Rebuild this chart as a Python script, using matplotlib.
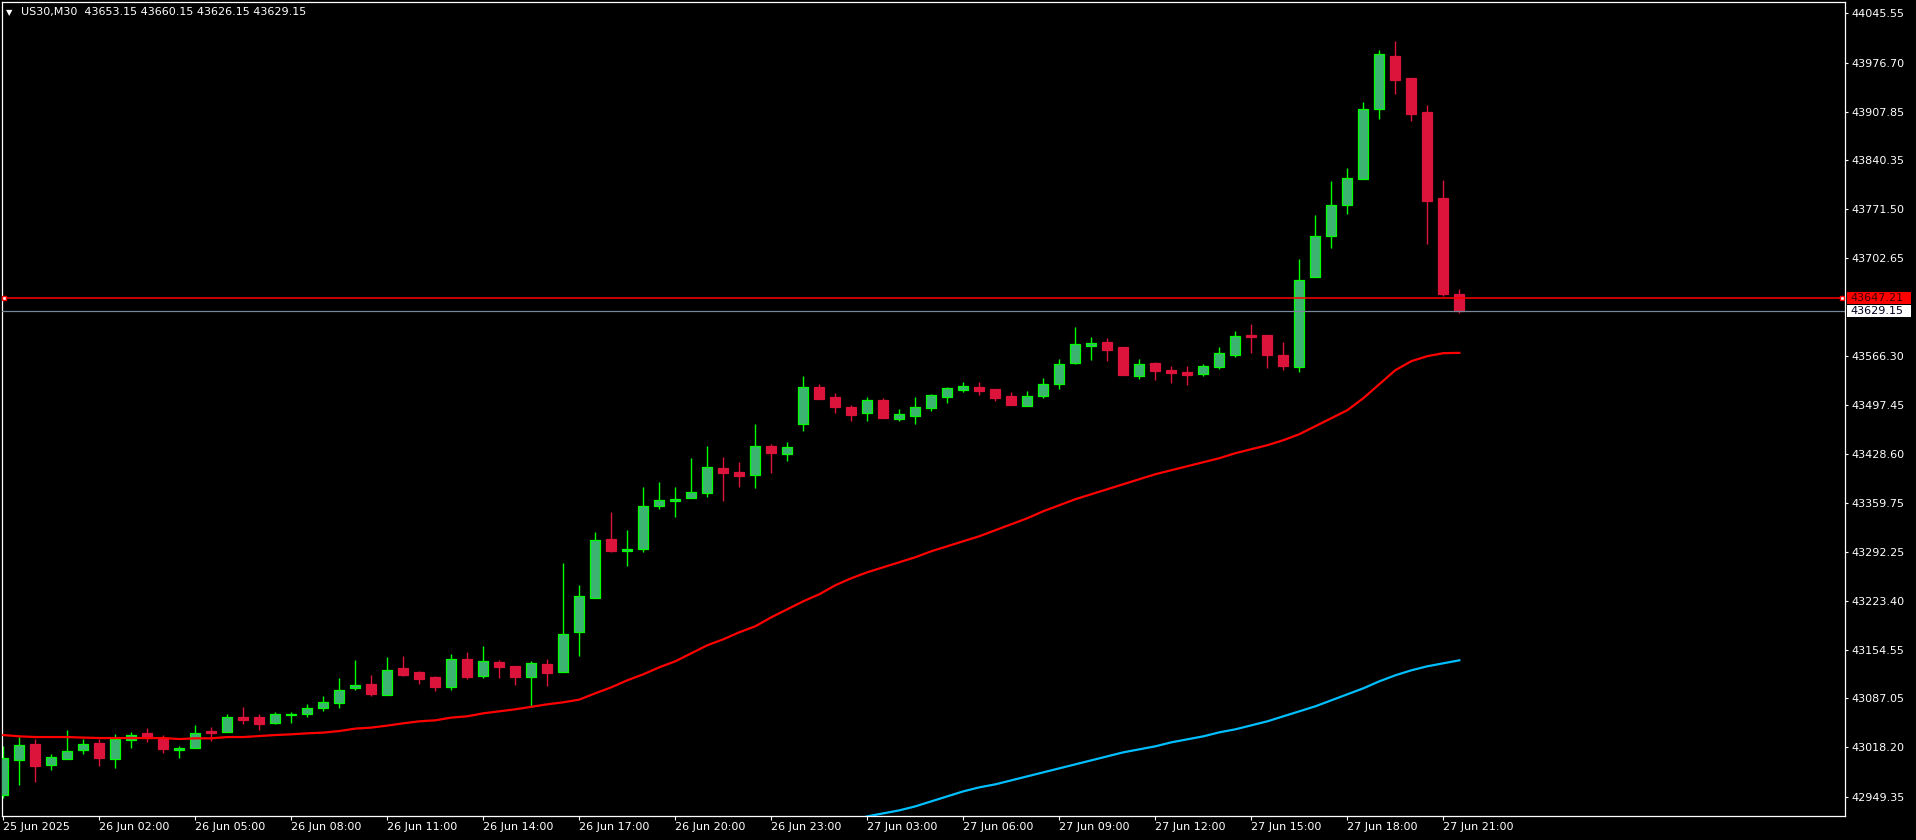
import numpy as np
import matplotlib
matplotlib.use("Agg")
import matplotlib.pyplot as plt
from matplotlib.patches import Rectangle
from matplotlib.transforms import blended_transform_factory

# US30 M30 candles (open, high, low, close)
opens = [42951.6, 43000.6, 43022.6, 42993.6, 43002.0, 43014.6, 43024.0, 43002.0, 43028.6, 43038.0,
         43032.0, 43014.6, 43018.0, 43040.8, 43039.8, 43060.4, 43060.4, 43052.4, 43063.2, 43065.6,
         43073.4, 43080.4, 43102.0, 43106.6, 43092.2, 43129.0, 43123.4, 43116.4, 43102.8, 43141.6,
         43118.2, 43137.4, 43131.8, 43116.8, 43134.6, 43124.4, 43180.4, 43228.0, 43309.6, 43293.2,
         43296.0, 43356.8, 43363.2, 43368.0, 43375.0, 43409.0, 43403.4, 43400.0, 43439.8, 43429.0,
         43471.0, 43522.4, 43508.4, 43494.4, 43486.4, 43504.2, 43478.0, 43482.2, 43493.4, 43508.8,
         43518.6, 43522.4, 43519.6, 43509.8, 43496.2, 43510.2, 43527.0, 43556.4, 43580.2, 43585.4,
         43578.4, 43538.2, 43556.0, 43546.2, 43543.4, 43540.6, 43550.8, 43567.6, 43595.2, 43595.2,
         43567.2, 43550.8, 43676.8, 43734.2, 43777.6, 43814.0, 43912.0, 43985.8, 43955.0, 43907.4,
         43787.0, 43653.15]
highs = [43019.6, 43032.8, 43030.0, 43008.6, 43042.2, 43029.6, 43029.6, 43036.6, 43039.4, 43045.0,
         43035.2, 43020.8, 43049.0, 43046.4, 43064.6, 43074.4, 43064.6, 43067.4, 43067.4, 43078.6,
         43090.2, 43115.0, 43140.2, 43119.2, 43144.4, 43145.8, 43124.8, 43117.8, 43148.6, 43151.4,
         43159.8, 43140.2, 43131.8, 43138.8, 43141.6, 43276.0, 43245.2, 43319.4, 43347.4, 43322.2,
         43382.4, 43389.4, 43382.4, 43423.0, 43439.8, 43424.4, 43417.4, 43470.6, 43442.6, 43445.4,
         43537.8, 43526.6, 43514.0, 43497.0, 43508.4, 43507.0, 43491.6, 43508.4, 43512.6, 43522.4,
         43529.4, 43529.4, 43519.6, 43515.4, 43516.8, 43535.0, 43561.6, 43606.4, 43592.4, 43591.0,
         43578.4, 43561.6, 43557.4, 43551.8, 43551.8, 43554.6, 43578.4, 43600.8, 43610.6, 43595.2,
         43585.4, 43701.6, 43763.2, 43810.8, 43829.0, 43921.4, 43994.2, 44006.8, 43955.0, 43917.2,
         43812.2, 43660.15]
lows = [42948.0, 42965.0, 42969.4, 42986.2, 43002.0, 43009.0, 42992.2, 42989.4, 43017.4, 43026.0,
        43010.4, 43003.4, 43018.0, 43027.0, 43039.8, 43051.0, 43042.6, 43051.0, 43052.4, 43060.8,
        43069.2, 43073.4, 43098.6, 43090.2, 43092.2, 43118.0, 43107.0, 43097.0, 43098.6, 43114.0,
        43115.4, 43115.4, 43105.6, 43075.8, 43104.2, 43124.4, 43146.2, 43228.0, 43291.8, 43272.0,
        43291.8, 43352.0, 43341.0, 43368.0, 43368.8, 43363.2, 43382.8, 43381.4, 43402.4, 43419.2,
        43461.0, 43506.0, 43486.4, 43475.2, 43475.2, 43479.4, 43475.2, 43471.0, 43489.2, 43500.4,
        43515.8, 43511.6, 43503.0, 43497.6, 43496.2, 43507.4, 43520.0, 43555.0, 43560.6, 43559.2,
        43539.6, 43534.0, 43532.6, 43528.4, 43525.6, 43538.2, 43548.0, 43564.8, 43570.0, 43549.4,
        43546.6, 43543.8, 43676.8, 43717.4, 43765.0, 43814.0, 43898.0, 43933.0, 43895.2, 43723.0,
        43650.2, 43626.15]
closes = [43002.9, 43021.0, 42991.8, 43004.4, 43012.8, 43022.6, 43003.4, 43029.6, 43036.2, 43032.0,
          43015.6, 43017.4, 43039.0, 43038.4, 43061.4, 43056.6, 43051.0, 43064.6, 43065.0, 43074.0,
          43082.4, 43099.2, 43106.2, 43093.0, 43127.2, 43119.6, 43114.0, 43102.8, 43141.6, 43116.8,
          43138.8, 43130.8, 43116.8, 43136.0, 43122.4, 43177.6, 43229.8, 43308.0, 43293.2, 43295.6,
          43356.8, 43365.2, 43366.6, 43376.4, 43410.0, 43402.4, 43398.2, 43439.8, 43430.4, 43438.0,
          43522.4, 43506.0, 43494.8, 43483.6, 43504.2, 43479.4, 43484.6, 43494.4, 43511.2, 43521.0,
          43523.8, 43517.2, 43507.4, 43497.6, 43509.8, 43526.6, 43554.6, 43582.6, 43584.0, 43574.6,
          43539.6, 43554.6, 43545.2, 43542.4, 43539.6, 43551.8, 43570.0, 43593.8, 43592.4, 43567.6,
          43552.2, 43672.0, 43733.8, 43777.2, 43815.0, 43911.6, 43988.6, 43952.6, 43905.0, 43783.2,
          43653.0, 43629.15]

# moving averages (red: all bars, blue: from bar 53 on, lower part is off-chart)
ma_red = [43035.6, 43033.8, 43032.8, 43032.8, 43032.8, 43032.0, 43031.4, 43031.4, 43031.4, 43031.4,
          43031.4, 43030.0, 43031.0, 43031.0, 43032.8, 43032.8, 43034.2, 43035.6, 43036.6, 43038.0,
          43039.0, 43041.2, 43044.6, 43046.0, 43048.8, 43052.0, 43054.8, 43056.2, 43060.0, 43061.8,
          43066.0, 43068.8, 43071.6, 43075.1, 43078.6, 43081.4, 43085.2, 43094.0, 43102.4, 43112.2,
          43120.6, 43130.4, 43138.8, 43150.0, 43161.2, 43169.6, 43179.4, 43187.8, 43200.4, 43211.6,
          43222.8, 43232.6, 43245.2, 43255.0, 43263.4, 43270.4, 43277.4, 43284.4, 43292.8, 43299.8,
          43306.8, 43313.8, 43322.2, 43330.6, 43339.0, 43348.8, 43357.2, 43365.6, 43372.6, 43379.6,
          43386.6, 43393.6, 43400.6, 43406.2, 43411.8, 43417.4, 43423.0, 43430.0, 43435.6, 43441.2,
          43448.2, 43456.6, 43467.8, 43479.0, 43490.2, 43507.0, 43526.6, 43546.2, 43558.8, 43565.8,
          43570.0, 43570.4]
blue_start = 53
ma_blue = [42914.8, 42921.8, 42926.0, 42930.2, 42935.8, 42942.8, 42949.8, 42956.8, 42962.4, 42966.6,
           42972.2, 42977.8, 42983.4, 42989.0, 42994.6, 43000.2, 43005.8, 43011.4, 43015.6, 43019.8,
           43025.4, 43029.6, 43033.8, 43039.4, 43043.6, 43049.2, 43054.8, 43061.8, 43068.8, 43075.8,
           43084.2, 43092.6, 43101.0, 43110.8, 43119.2, 43126.2, 43131.8, 43136.0, 43140.2]

hline_price = 43647.21
bid_price = 43629.15

ytick_vals = [44045.55, 43976.70, 43907.85, 43840.35, 43771.50, 43702.65, 43566.30, 43497.45,
              43428.60, 43359.75, 43292.25, 43223.40, 43154.55, 43087.05, 43018.20, 42949.35]
xtick_bars = [0, 6, 12, 18, 24, 30, 36, 42, 48, 54, 60, 66, 72, 78, 84, 90]
xtick_labels = ["25 Jun 2025", "26 Jun 02:00", "26 Jun 05:00", "26 Jun 08:00", "26 Jun 11:00",
                "26 Jun 14:00", "26 Jun 17:00", "26 Jun 20:00", "26 Jun 23:00", "27 Jun 03:00",
                "27 Jun 06:00", "27 Jun 09:00", "27 Jun 12:00", "27 Jun 15:00", "27 Jun 18:00",
                "27 Jun 21:00"]

W, H = 1916, 840
fig = plt.figure(figsize=(W / 100, H / 100), dpi=100, facecolor="black")
ax = fig.add_axes([2 / W, 1 - 816 / H, 1843 / W, 814 / H], facecolor="black")

bull_fill = "#3CB371"
bull_edge = "#00FF00"
bear = "#DC143C"
bw = 0.62

for i in range(len(opens)):
    o, h, l, c = opens[i], highs[i], lows[i], closes[i]
    up = c >= o
    col = bull_edge if up else bear
    ax.vlines(i, l, h, color=col, lw=1.0, zorder=2)
    bottom = min(o, c)
    height = max(abs(c - o), 1.2)
    ax.add_patch(Rectangle((i - bw / 2, bottom), bw, height,
                           facecolor=bull_fill if up else bear,
                           edgecolor=col, lw=0.9, zorder=3))

ax.plot(np.arange(len(ma_red)), ma_red, color="#FF0000", lw=1.6, zorder=4)
ax.plot(np.arange(blue_start, blue_start + len(ma_blue)), ma_blue, color="#00BFFF", lw=1.6, zorder=4)

ax.axhline(hline_price, color="#FF0000", lw=1.1, zorder=5)
ax.axhline(bid_price, color="#778899", lw=0.9, zorder=5)
ax.plot([0.001, 0.9985], [hline_price, hline_price], ls="none", marker="s", ms=3.5,
        mfc="white", mec="#FF0000", mew=1.0,
        transform=blended_transform_factory(ax.transAxes, ax.transData), zorder=6, clip_on=False)

ax.set_xlim(-0.08, 115.1)
ax.set_ylim(42922.3, 44061.4)

for sp in ax.spines.values():
    sp.set_color("white")
    sp.set_linewidth(0.9)

ax.yaxis.tick_right()
ax.set_yticks(ytick_vals)
ax.set_yticklabels([f"{v:.2f}" for v in ytick_vals])
ax.tick_params(axis="y", colors="white", labelcolor="white", labelsize=8,
               direction="out", length=2.5, width=0.8, pad=2.2)
ax.set_xticks(xtick_bars)
ax.set_xticklabels(xtick_labels, ha="left")
ax.tick_params(axis="x", colors="white", labelcolor="white", labelsize=8,
               direction="out", length=3, width=0.8, pad=1.5)
for lab in ax.get_xticklabels():
    lab.set_horizontalalignment("left")

# price labels on the right scale
tr = blended_transform_factory(ax.transAxes, ax.transData)
box_h = 12 * (44061.4 - 42922.3) / 814
x0 = (1846.7 - 2) / 1843
bw_ax = 64 / 1843
ax.add_patch(Rectangle((x0, hline_price - box_h / 2), bw_ax, box_h, transform=tr,
                       facecolor="#FF0000", edgecolor="none", clip_on=False, zorder=7))
ax.text(x0 + 4 / 1843, hline_price, f"{hline_price:.2f}", transform=tr, color="#3a0000",
        fontsize=8, va="center", ha="left", clip_on=False, zorder=8)
ax.add_patch(Rectangle((x0, bid_price - box_h / 2 - 0.8), bw_ax, box_h + 1.0, transform=tr,
                       facecolor="white", edgecolor="none", clip_on=False, zorder=7))
ax.text(x0 + 4 / 1843, bid_price, f"{bid_price:.2f}", transform=tr, color="#000020",
        fontsize=8, va="center", ha="left", clip_on=False, zorder=8)

# header
fig.text(6 / W, 1 - 12.5 / H, "\u25bc", color="white", fontsize=6, va="center", ha="left")
fig.text(21 / W, 1 - 12.5 / H,
         f"US30,M30  {opens[-1]:.2f} {highs[-1]:.2f} {lows[-1]:.2f} {closes[-1]:.2f}",
         color="white", fontsize=8, va="center", ha="left")

fig.savefig("out.png", dpi=100, facecolor="black")
